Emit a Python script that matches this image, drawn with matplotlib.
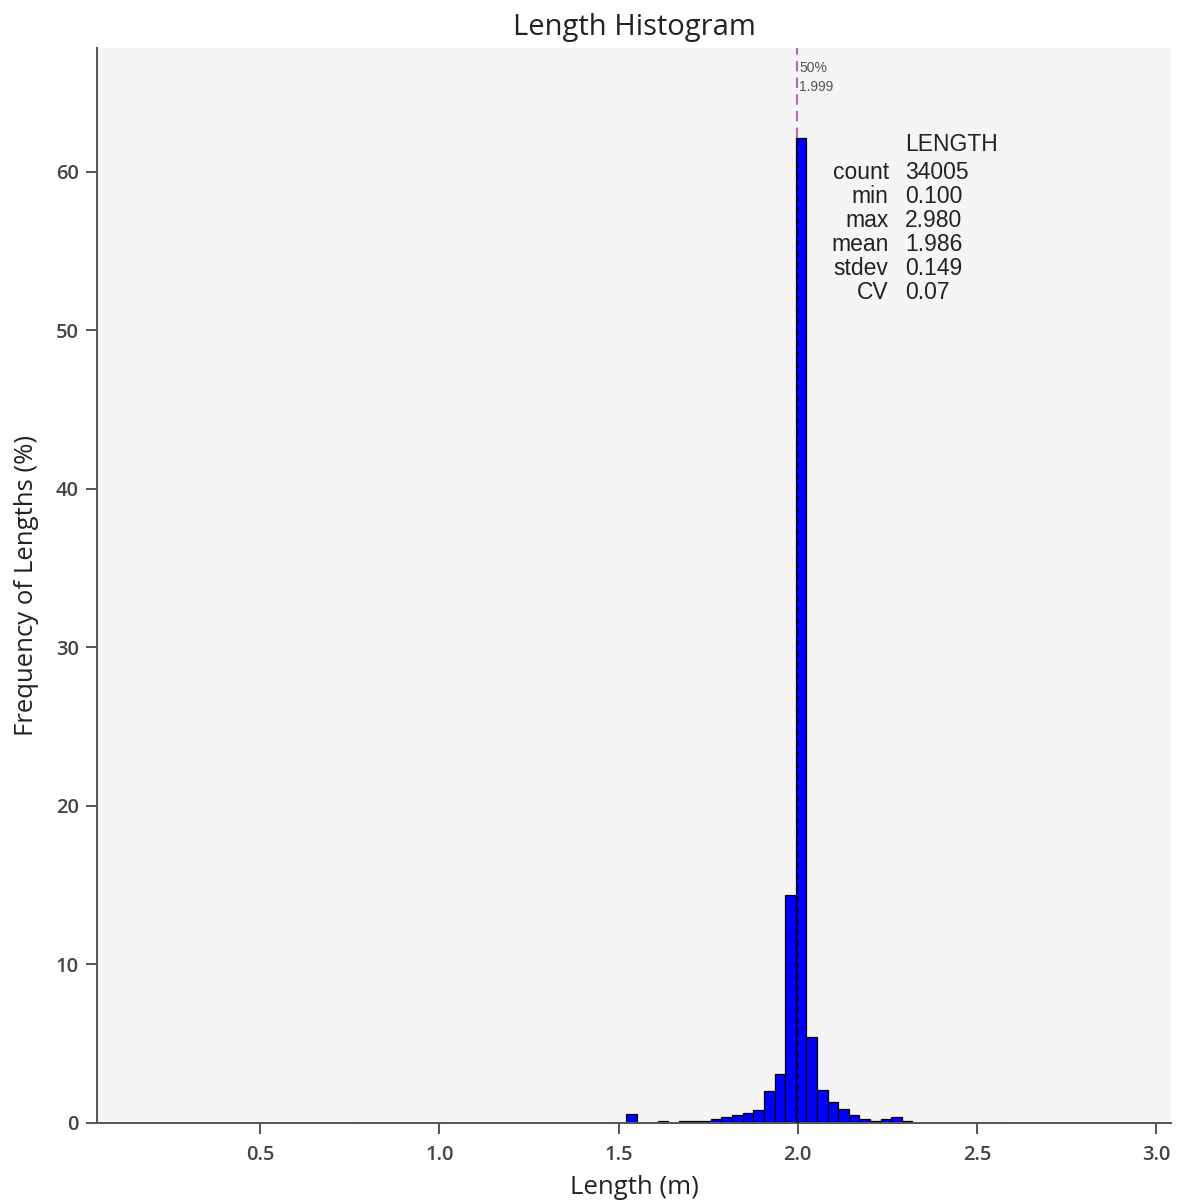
import matplotlib
matplotlib.use("Agg")
import matplotlib.pyplot as plt
import numpy as np

# ---- data ----
bin_start = 0.1
bin_width = 0.0296
bin_index = [13, 22, 30, 46, 47, 48, 49, 50, 51, 52, 53, 54, 55, 56, 57, 58, 59, 60,
             61, 62, 63, 64, 65, 66, 67, 68, 69, 70, 71, 72, 73, 74,
             75, 76, 77, 78, 79, 80, 81, 82, 83]
freq_pct = [0.003, 0.003, 0.003, 0.003, 0.003, 0.59, 0.003, 0.003, 0.15, 0.003, 0.1, 0.1, 0.13,
            0.23, 0.36, 0.49, 0.65, 0.82, 2.0, 3.1, 14.4, 62.1, 5.4, 2.1, 1.35, 0.87,
            0.5, 0.23, 0.1, 0.23, 0.36, 0.13,
            0.003, 0.003, 0.003, 0.003, 0.003, 0.003, 0.003, 0.003, 0.003]
median_val = 1.999
stat_names = ["count", "min", "max", "mean", "stdev", "CV"]
stat_values = ["34005", "0.100", "2.980", "1.986", "0.149", "0.07"]
x_ticks = [0.5, 1.0, 1.5, 2.0, 2.5, 3.0]
y_ticks = [0, 10, 20, 30, 40, 50, 60]

fig = plt.figure(figsize=(11.8, 12.03), dpi=100)
ax = fig.add_axes([97/1180, 1 - 1123/1203, (1171-97)/1180, (1123-48)/1203])
ax.set_facecolor("#f5f5f5")

lefts = [bin_start + i * bin_width for i in bin_index]
edge_cols = ["black" if f > 0.05 else "#3333ff" for f in freq_pct]
ax.bar(lefts, freq_pct, width=bin_width, align="edge", color="#0000ff",
       edgecolor=edge_cols, linewidth=0.9, zorder=2)

ax.set_xlim(0.044, 3.042)
ax.set_ylim(0, 67.8)

peak = max(freq_pct)
ax.plot([median_val, median_val], [peak, 67.8], color="#b06ab3", lw=1.5,
        dashes=(5, 3), zorder=3)
ax.plot([median_val, median_val], [0, peak], color="#000040", lw=2.0,
        dashes=(1.8, 2.2), zorder=3)
ax.text(median_val + 0.005, 67.0, "50%\n1.999", fontsize=10, color="#555555",
        va="top", ha="left", family="Liberation Sans", linespacing=1.45)

# stats box
tx_lab = 2.254
tx_val = 2.299
ax.text(tx_val, 61.7, "LENGTH", fontsize=16.5, color="#222222",
        family="Liberation Sans", ha="left", va="center")
for i, (n, v) in enumerate(zip(stat_names, stat_values)):
    yy = 59.93 - i * 1.514
    ax.text(tx_lab, yy, n, fontsize=16.5, color="#222222",
            family="Liberation Sans", ha="right", va="center")
    ax.text(tx_val, yy, v, fontsize=16.5, color="#222222",
            family="Liberation Sans", ha="left", va="center")

for s in ["top", "right"]:
    ax.spines[s].set_visible(False)
for s in ["left", "bottom"]:
    ax.spines[s].set_color("#555555")
    ax.spines[s].set_linewidth(1.4)

ax.set_xticks(x_ticks)
ax.set_xticklabels([f"{t:.1f}" for t in x_ticks])
ax.set_yticks(y_ticks)
ax.tick_params(axis="both", direction="out", length=8, width=1.4, color="#555555",
               labelsize=14.5, labelcolor="#444444", pad=5)
ax.tick_params(axis="x", pad=8)
for lab in ax.get_xticklabels() + ax.get_yticklabels():
    lab.set_family("Open Sans")
    lab.set_fontweight("semibold")

ax.set_title("Length Histogram", fontsize=21, family="Open Sans", color="#222222", pad=9)
ax.set_xlabel("Length (m)", fontsize=18.5, family="Open Sans", color="#222222", labelpad=7)
ax.set_ylabel("Frequency of Lengths (%)", fontsize=18.5, family="Open Sans", color="#222222", labelpad=12)

fig.savefig("out.png", dpi=100)
